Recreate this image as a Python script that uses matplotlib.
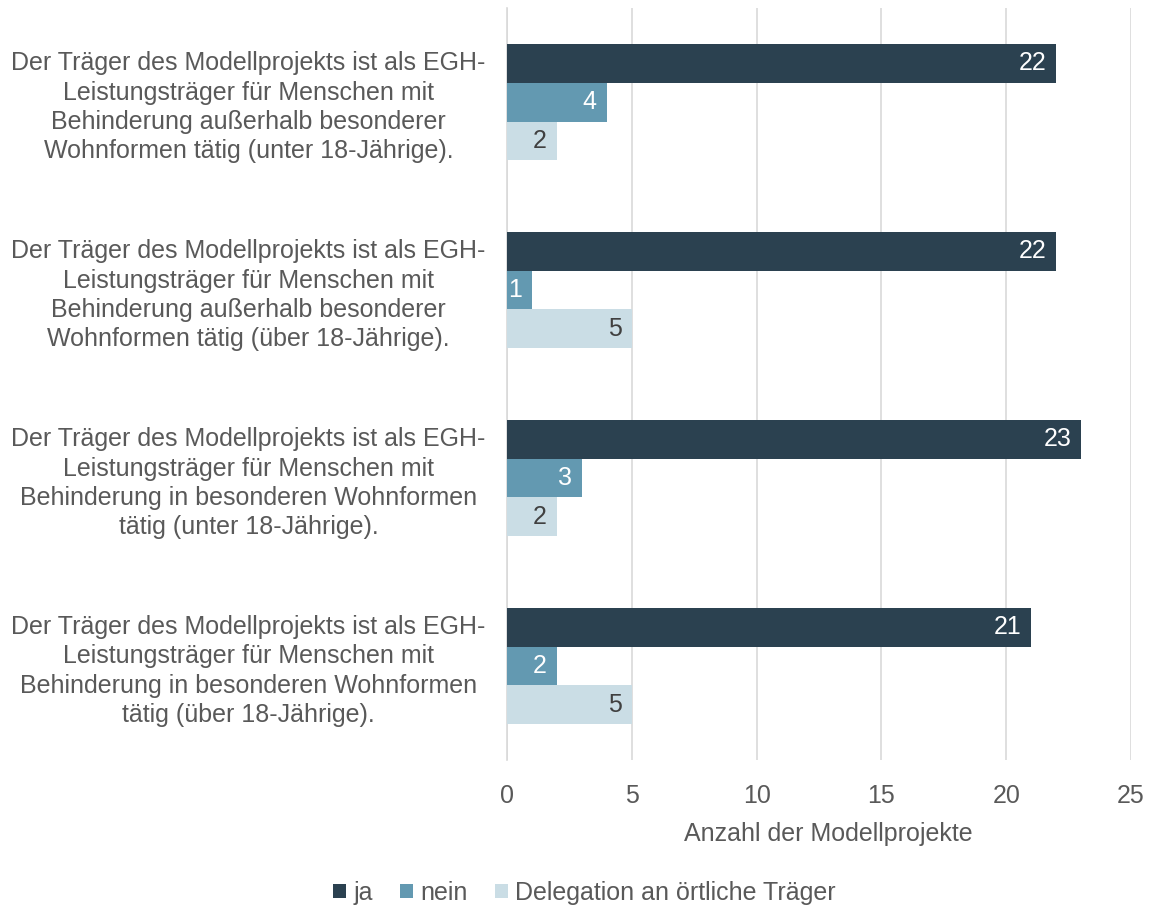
import matplotlib.pyplot as plt
import numpy as np

plt.rcParams['font.family'] = ['Liberation Sans', 'DejaVu Sans']

# Kategorien (von oben nach unten)
categories = [
    "Der Träger des Modellprojekts ist als EGH-\nLeistungsträger für Menschen mit\nBehinderung außerhalb besonderer\nWohnformen tätig (unter 18-Jährige).",
    "Der Träger des Modellprojekts ist als EGH-\nLeistungsträger für Menschen mit\nBehinderung außerhalb besonderer\nWohnformen tätig (über 18-Jährige).",
    "Der Träger des Modellprojekts ist als EGH-\nLeistungsträger für Menschen mit\nBehinderung in besonderen Wohnformen\ntätig (unter 18-Jährige).",
    "Der Träger des Modellprojekts ist als EGH-\nLeistungsträger für Menschen mit\nBehinderung in besonderen Wohnformen\ntätig (über 18-Jährige).",
]
ja = [22, 22, 23, 21]
nein = [4, 1, 3, 2]
delegation = [2, 5, 2, 5]

series_names = ["ja", "nein", "Delegation an örtliche Träger"]
colors = ["#2b4150", "#6399b1", "#cadde5"]
label_colors = ["white", "white", "#404040"]
text_grey = "#595959"
fs = 18

fig = plt.figure(figsize=(11.53, 9.09), dpi=100)
ax = fig.add_axes([0.4397, 0.164, 0.5413, 0.827])

y = np.arange(len(categories))
h = 0.206
series = [ja, nein, delegation]
for i, (vals, name, col, lc) in enumerate(zip(series, series_names, colors, label_colors)):
    pos = y + (i - 1) * h
    bars = ax.barh(pos, vals, height=h, color=col, label=name, zorder=3)
    for b, v in zip(bars, vals):
        ax.text(v - 0.4, b.get_y() + b.get_height() / 2, str(v),
                ha='right', va='center', color=lc, fontsize=fs, zorder=4)

ax.set_ylim(3.5, -0.5)
ax.set_xlim(0, 25)
ax.set_xticks(np.arange(0, 26, 5))
ax.set_yticks(y)
ax.set_yticklabels(categories, fontsize=fs, color=text_grey, ha='center', linespacing=1.28)
ax.tick_params(axis='y', length=0, pad=186)
ax.tick_params(axis='x', length=0, labelsize=fs, labelcolor=text_grey, pad=17)
ax.grid(axis='x', color='#d9d9d9', linewidth=1.2, zorder=0)
for s in ['top', 'right', 'bottom']:
    ax.spines[s].set_visible(False)
ax.spines['left'].set_color('#d9d9d9')
ax.spines['left'].set_linewidth(1.2)
ax.set_xlabel("Anzahl der Modellprojekte", fontsize=fs, color=text_grey, labelpad=12)
ax.xaxis.set_label_coords(0.515, -0.083)

fig.legend(loc='center', bbox_to_anchor=(0.507, 0.018), ncol=3, frameon=False,
           fontsize=fs, labelcolor=text_grey, handlelength=0.5, handleheight=0.5,
           handletextpad=0.3, columnspacing=1.1)

fig.savefig("out.png", dpi=100)
